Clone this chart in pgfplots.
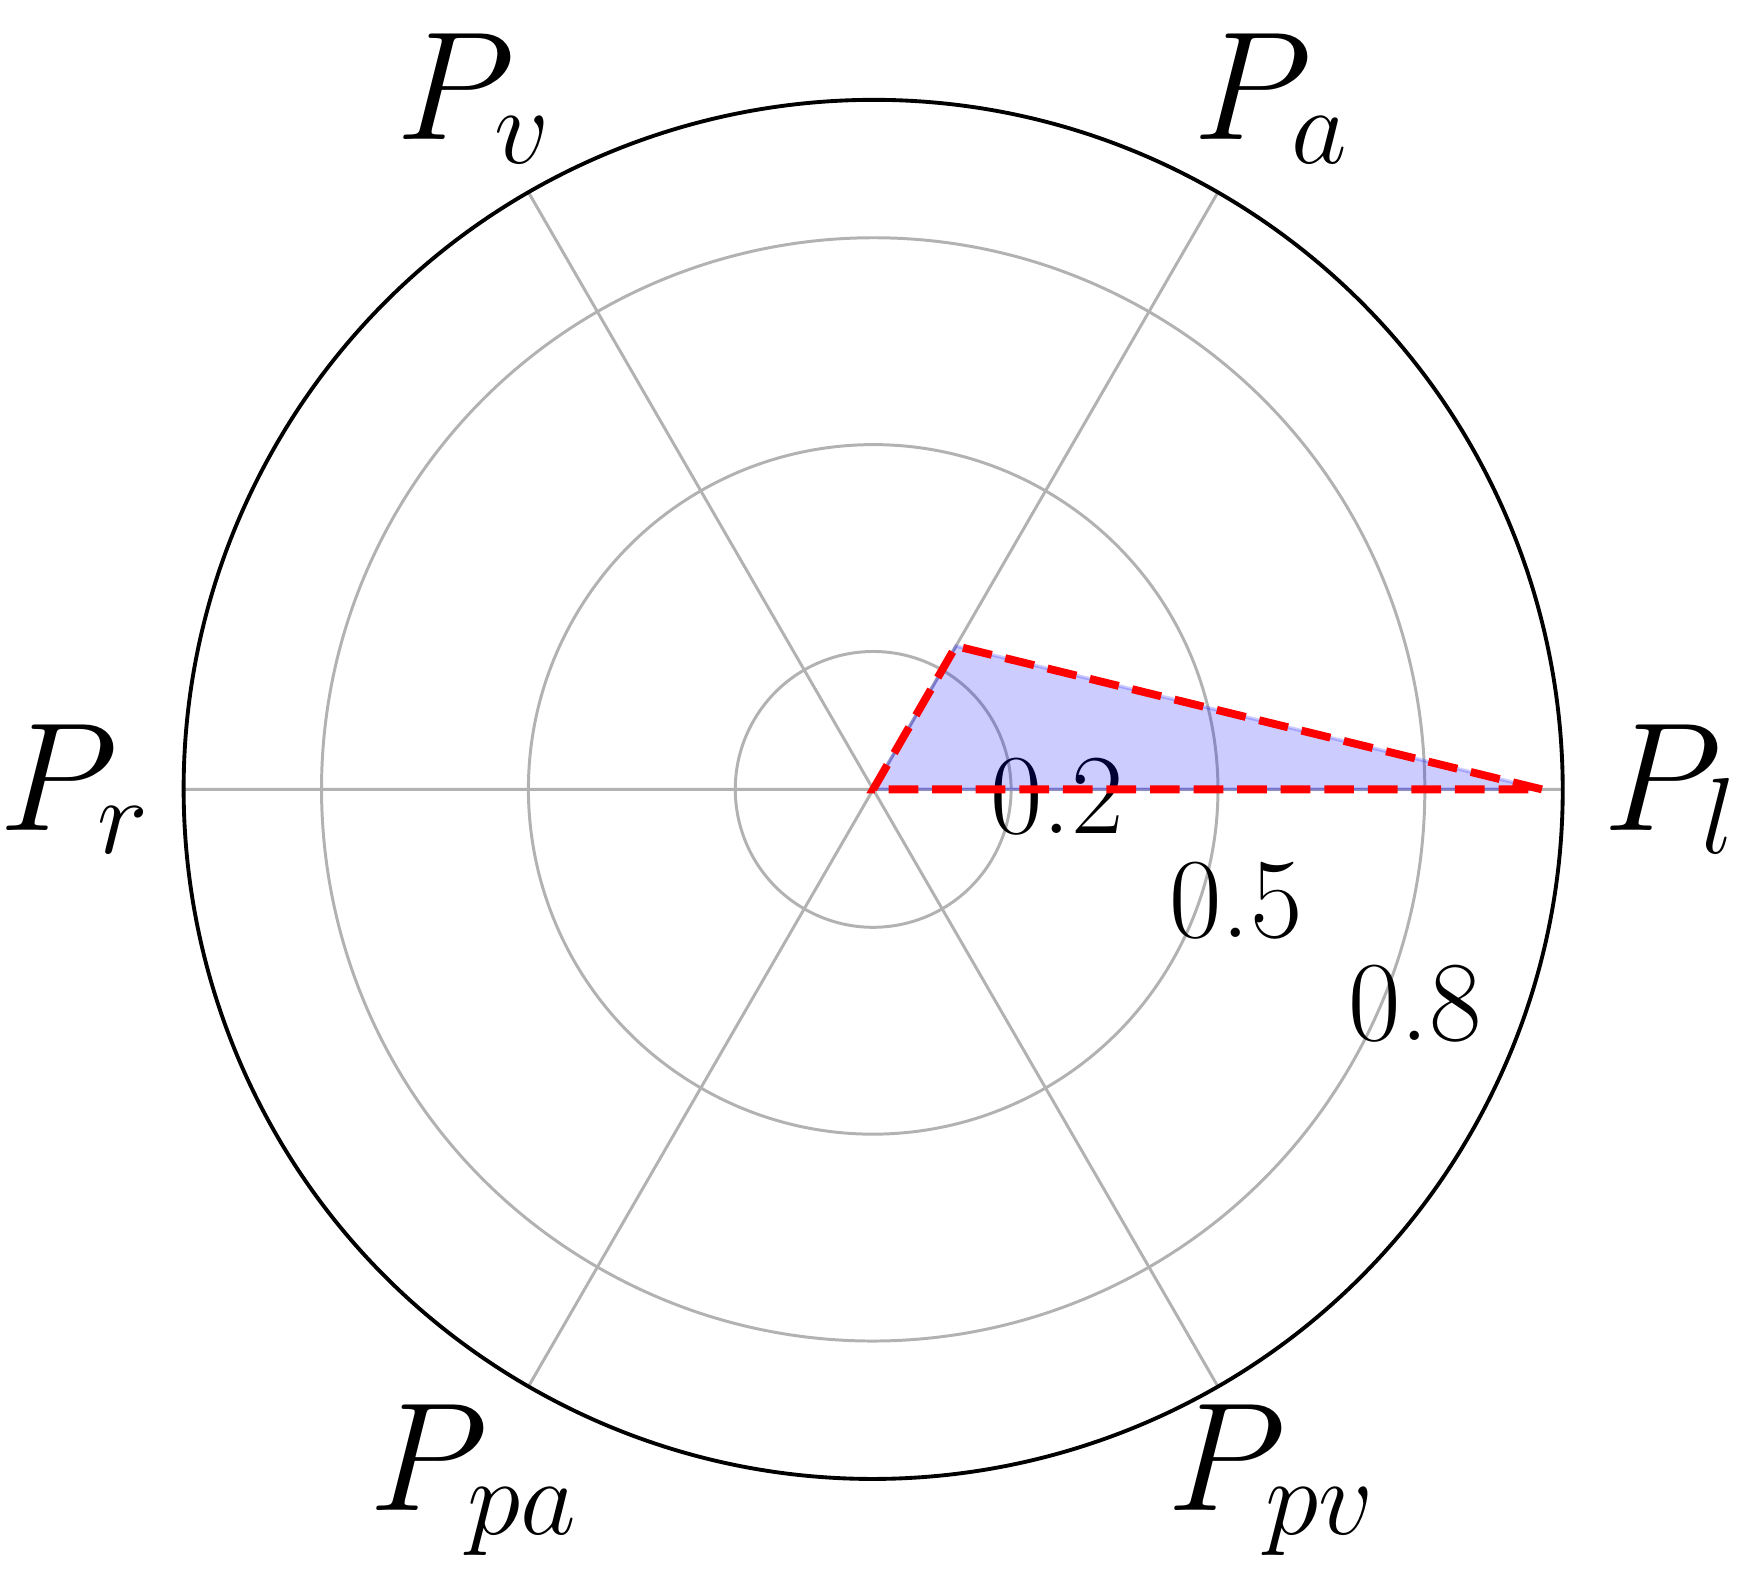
\RequirePackage{fix-cm}
\documentclass[border=0pt]{standalone}
\usepackage{pgfplots}
\pgfplotsset{compat=1.18}
\usepgfplotslibrary{polar}

\begin{document}
\begin{tikzpicture}
\begin{polaraxis}[
  scale only axis,
  width=232pt, height=232pt,
  xmin=-30, xmax=330,
  ymin=0, ymax=1,
  xtick={0,60,120,180,240,300},
  xticklabels={$P_l$,$P_a$,$P_v$,$P_r$,$P_{pa}$,$P_{pv}$},
  ytick={0.2,0.5,0.8},
  yticklabels={0.2,0.5,0.8},
  major tick length=0pt,
  grid=major,
  major grid style={black!30, line width=0.5pt},
  separate axis lines,
  x axis line style={black, line width=0.65pt},
  y axis line style={draw=none},
  xticklabel shift=18.2pt,
  xticklabel style={font=\fontsize{26}{28}\selectfont, anchor=center, inner sep=0pt},
  yticklabel style={font=\fontsize{19.2}{21}\selectfont, anchor=south west, inner sep=0pt, yshift=3.6pt, xshift=-0.6pt},
]
\addplot[fill=blue, draw=blue, fill opacity=0.2, draw opacity=0.2, line width=0.6pt] coordinates {
  (0,0.97) (60,0.24) (120,0) (180,0) (240,0) (300,0) (360,0.97)
};
\addplot[red, line width=1.33pt, dash pattern=on 5pt off 2.33pt] coordinates {
  (0,0.97) (60,0.24) (120,0) (180,0) (240,0) (300,0) (360,0.97)
};
\end{polaraxis}
\end{tikzpicture}
\end{document}
